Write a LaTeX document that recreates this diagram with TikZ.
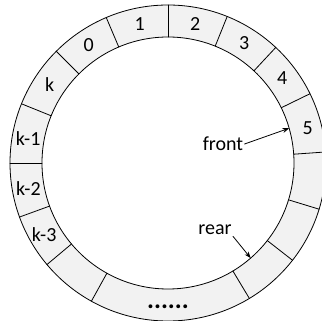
\documentclass[tikz,border=0pt]{standalone}
\usepackage{fontspec}
\setmainfont{Carlito}
\usepackage{xcolor}
\usetikzlibrary{arrows.meta}
\definecolor{ringgray}{RGB}{242,242,242}
\tikzset{
  every picture/.style={line join=round, line cap=round, >=Stealth},
  cell/.style={font=\fontsize{20}{24}\selectfont, inner sep=1pt},
}

\begin{document}
\begin{tikzpicture}[x=1pt,y=1pt,line width=0.8pt]
\useasboundingbox (0,0) rectangle (322,321);
\clip (0,0) rectangle (322,321);
\begin{scope}[shift={(168,158)}]
\fill[ringgray,even odd rule](0,0)circle(158)(0,0)circle(126);
\draw(0,0)circle(158)(0,0)circle(126);
\foreach \a in {180,158,135,113,90,68,47,26,4,-17,-38,-59,-119,-140,-160}
  \draw(\a:126)--(\a:158);
\node[cell](c0) at (124:142){0};
\node[cell](c1) at (101.5:142){1};
\node[cell](c2) at (79:142){2};
\node[cell](c3) at (57.5:142){3};
\node[cell](c4) at (36.5:142){4};
\node[cell](c5) at (14:144){5};
\node[cell](ck) at (146.5:142){k};
\node[cell](ck1) at (170:142){k-1};
\node[cell](ck2) at (190.5:142){k-2};
\node[cell](ck3) at (210:143){k-3};
\node[cell,font=\fontsize{26}{30}\selectfont\bfseries](cdots) at (270:144){......};
\coordinate(fr) at (16:126);
\coordinate(rr) at (-49:126);
\node[cell](front) at (55,19){front};
\node[cell](rear) at (47,-67){rear};
\draw[->](front.east)--(fr);
\draw[->](rear.south east)--(rr);
\end{scope}
\end{tikzpicture}
\end{document}
